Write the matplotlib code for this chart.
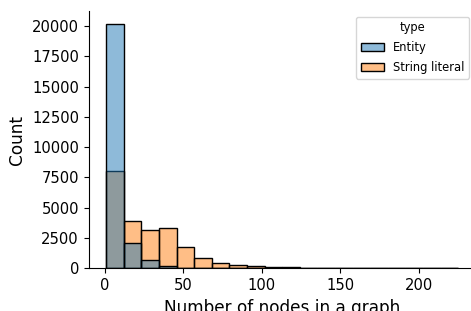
import numpy as np
import pandas as pd
import matplotlib
matplotlib.use("Agg")
import matplotlib.pyplot as plt
import seaborn as sns

# 20 bins between 1 and 225 nodes
bin_range = (1, 225)
n_bins = 20

entity_counts = [20200, 2120, 710, 215, 40, 15, 8, 5, 3, 2,
                 1, 1, 1, 0, 0, 0, 0, 0, 0, 0]
literal_counts = [8050, 3880, 3190, 3330, 1730, 880, 410, 250, 150, 110,
                  70, 50, 40, 30, 22, 15, 10, 6, 3, 2]

bin_edges = np.linspace(bin_range[0], bin_range[1], n_bins + 1)
centers = (bin_edges[:-1] + bin_edges[1:]) / 2
df = pd.DataFrame({
    "nodes": np.concatenate([centers, centers]),
    "count": entity_counts + literal_counts,
    "type": ["Entity"] * len(centers) + ["String literal"] * len(centers),
})

fig = plt.figure(figsize=(4.71, 3.11), dpi=100)
ax = fig.add_axes([0.1883, 0.1373, 0.822, 0.826])

sns.histplot(data=df, x="nodes", weights="count", hue="type",
             bins=n_bins, binrange=bin_range,
             ax=ax, edgecolor="black", linewidth=1)

ax.set_xlabel("Number of nodes in a graph", fontsize=12.2)
ax.set_ylabel("Count", fontsize=12.2)
ax.tick_params(labelsize=10.6)
ax.set_xticks([0, 50, 100, 150, 200])
ax.set_yticks(np.arange(0, 20001, 2500))

# legend sits just inside the right edge of the (cropped) figure
sns.move_legend(ax, "upper right", bbox_to_anchor=(469 / 471, (311 - 16.7) / 311),
                bbox_transform=fig.transFigure, borderaxespad=0,
                fontsize=8.3, title_fontsize=8.3, labelspacing=0.6)

sns.despine(ax=ax)
fig.savefig("out.png", dpi=100)
